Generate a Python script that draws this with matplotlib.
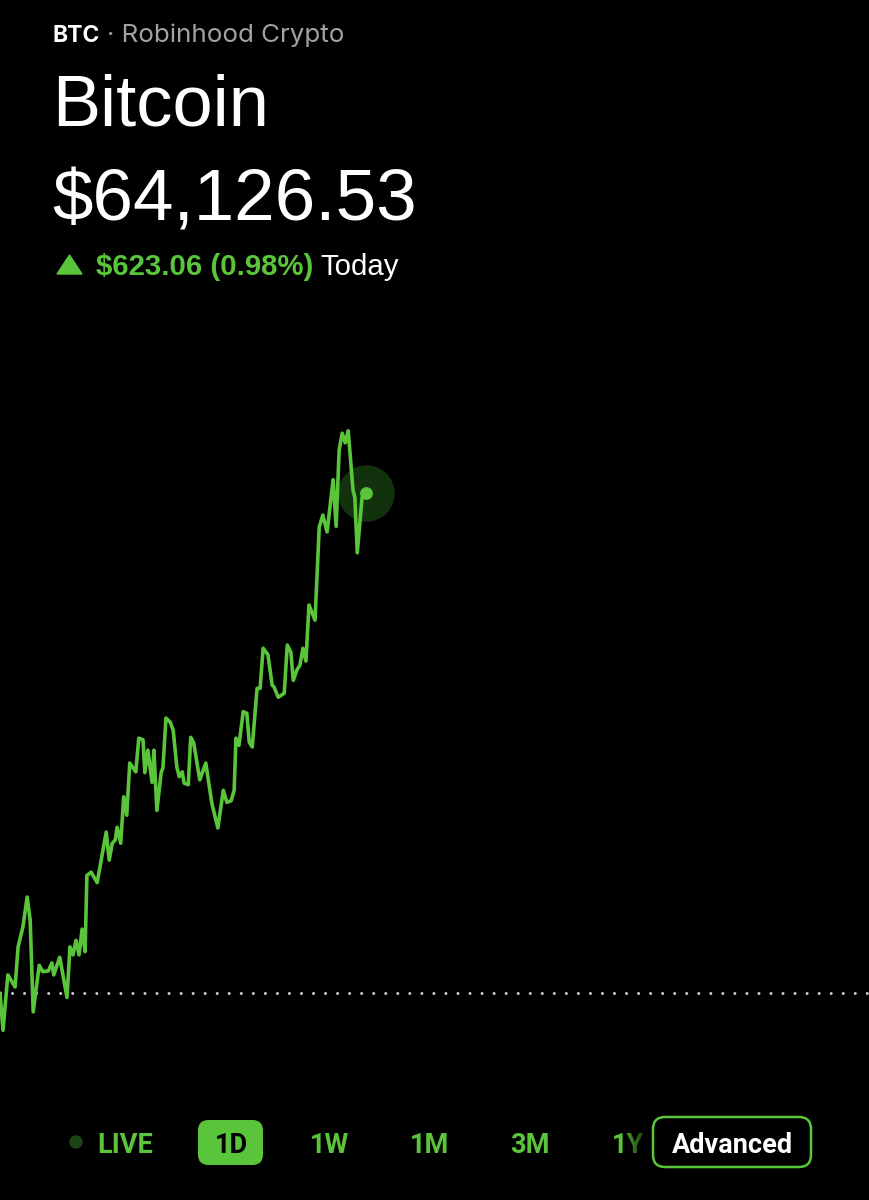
import matplotlib
matplotlib.use('Agg')
import matplotlib.pyplot as plt
import numpy as np
from matplotlib.patches import FancyBboxPatch, Polygon, Circle

# ---------------- data ----------------
symbol = "BTC"
source = "Robinhood Crypto"
name = "Bitcoin"
price_text = "$64,126.53"
change_text = "$623.06 (0.98%)"
period_text = "Today"
prev_close = 63503.47
last_price = 64126.53

# minutes since start of the day (chart spans 1440 minutes)
minutes = [0, 5, 13, 25, 30, 38, 45, 50, 55, 65, 71, 80, 86, 89, 99, 111, 116, 121, 126, 131,
           136, 141, 144, 151, 161, 176, 181, 186, 191, 194, 200, 205, 210, 215, 225, 230, 237,
           240, 245, 252, 255, 260, 267, 270, 275, 282, 287, 293, 297, 302, 305, 312, 316, 321,
           331, 341, 351, 361, 370, 376, 383, 388, 391, 396, 403, 409, 413, 418, 426, 431, 436,
           444, 451, 454, 461, 471, 476, 482, 486, 492, 497, 502, 507, 512, 522, 529, 535, 542,
           552, 557, 562, 567, 572, 577, 585, 588, 592, 600, 606]
prices = [63503, 63457, 63526, 63511, 63561, 63586, 63623, 63594, 63480, 63538, 63530, 63531,
          63541, 63526, 63548, 63498, 63561, 63551, 63569, 63551, 63583, 63555, 63650, 63654,
          63641, 63704, 63669, 63690, 63694, 63710, 63690, 63748, 63725, 63790, 63779, 63821,
          63819, 63778, 63806, 63766, 63806, 63731, 63778, 63784, 63846, 63841, 63831, 63785,
          63773, 63779, 63765, 63763, 63822, 63815, 63769, 63790, 63740, 63709, 63756, 63741,
          63743, 63756, 63821, 63812, 63854, 63852, 63816, 63810, 63883, 63883, 63933, 63925,
          63887, 63885, 63872, 63877, 63937, 63928, 63893, 63906, 63912, 63933, 63917, 63987,
          63968, 64084, 64099, 64078, 64143, 64085, 64180, 64201, 64189, 64204, 64130, 64121,
          64052, 64121, 64126.53]

ranges = ["1D", "1W", "1M", "3M", "1Y"]
live_label = "LIVE"
advanced_label = "Advanced"

# ---------------- style ----------------
GREEN = '#5ac53a'
W, H = 869, 1200
fig = plt.figure(figsize=(W / 100, H / 100), dpi=100, facecolor='black')

def fx(px):
    return px / W

def fy(py):
    return 1 - py / H

# chart axes
ax = fig.add_axes([0, 0, 1, 1])
ax.set_facecolor('black')
ax.set_xlim(0, 1440)
ax.set_ylim(63245.55, 64740.75)
ax.axis('off')

ax.axhline(prev_close, color='#c4c8cc', lw=2.2, ls=(0, (0.01, 3.93)),
           dash_capstyle='round', zorder=1)
ax.scatter([minutes[-1]], [prices[-1]], s=1650, color='#163a10', alpha=0.85,
           linewidths=0, zorder=2)
ax.plot(minutes, prices, color=GREEN, lw=2.6, solid_joinstyle='round', zorder=3)
ax.scatter([minutes[-1]], [prices[-1]], s=85, color=GREEN, linewidths=0, zorder=4)

# ---------------- header text ----------------
SF = 'Inter'
HF = 'Liberation Sans'
t = fig.text(fx(53), fy(42), symbol, color='white', fontsize=16.5, fontweight='bold',
             family=SF, va='baseline', ha='left')
fig.canvas.draw()
r = fig.canvas.get_renderer()
bb = t.get_window_extent(r)
fig.text(bb.x1 / W + fx(7), fy(42), "· " + source, color='#9ea3a8', fontsize=18.7,
         family=SF, va='baseline', ha='left')

fig.text(fx(52), fy(125), name, color='white', fontsize=52, family=HF,
         va='baseline', ha='left')
fig.text(fx(52), fy(221), price_text, color='white', fontsize=52.5, family=HF,
         va='baseline', ha='left')

tri = Polygon([[fx(57), fy(274)], [fx(82), fy(274)], [fx(69.5), fy(255)]],
              closed=True, transform=fig.transFigure, color=GREEN)
fig.patches.append(tri)
c = fig.text(fx(96), fy(275), change_text, color=GREEN, fontsize=21.2, fontweight='bold',
             family=HF, va='baseline', ha='left')
bb = c.get_window_extent(r)
fig.text(bb.x1 / W + fx(7), fy(275), period_text, color='white', fontsize=21.2,
         family=HF, va='baseline', ha='left')

# ---------------- bottom range selector ----------------
BF = 'Roboto'
ybase = 1153
fig.patches.append(Circle((76 / 100, (H - 1142) / 100), 0.06,
                          transform=fig.dpi_scale_trans, color='#1d4416'))
fig.text(fx(97), fy(ybase), live_label, color=GREEN, fontsize=19.5, fontweight='bold',
         family=BF, va='baseline', ha='left')

box = FancyBboxPatch((fx(198), fy(1165)), fx(263) - fx(198), fy(1120) - fy(1165),
                     boxstyle="round,pad=0,rounding_size=0.012", transform=fig.transFigure,
                     facecolor=GREEN, edgecolor='none', mutation_aspect=W / H)
fig.patches.append(box)

centers = [231, 329, 429, 530, 628]
for lab, cx in zip(ranges, centers):
    col = 'black' if lab == "1D" else GREEN
    fig.text(fx(cx), fy(ybase), lab, color=col, fontsize=19.5, fontweight='bold',
             family=BF, va='baseline', ha='center')

# fade over the 1Y label
gax = fig.add_axes([fx(626), fy(1170), fx(653) - fx(626), fy(1115) - fy(1170)], zorder=10)
grad = np.zeros((1, 100, 4))
grad[..., 3] = np.linspace(0.2, 0.95, 100)
gax.imshow(grad, aspect='auto', extent=[0, 1, 0, 1])
gax.axis('off')

adv = FancyBboxPatch((fx(653), fy(1167)), fx(811) - fx(653), fy(1117) - fy(1167),
                     boxstyle="round,pad=0,rounding_size=0.014", transform=fig.transFigure,
                     facecolor='black', edgecolor=GREEN, lw=1.8, mutation_aspect=W / H,
                     zorder=11)
fig.patches.append(adv)
fig.text(fx(732), fy(ybase), advanced_label, color='white', fontsize=19.5, fontweight='bold',
         family=BF, va='baseline', ha='center', zorder=12)

fig.savefig('out.png', dpi=100, facecolor='black')
